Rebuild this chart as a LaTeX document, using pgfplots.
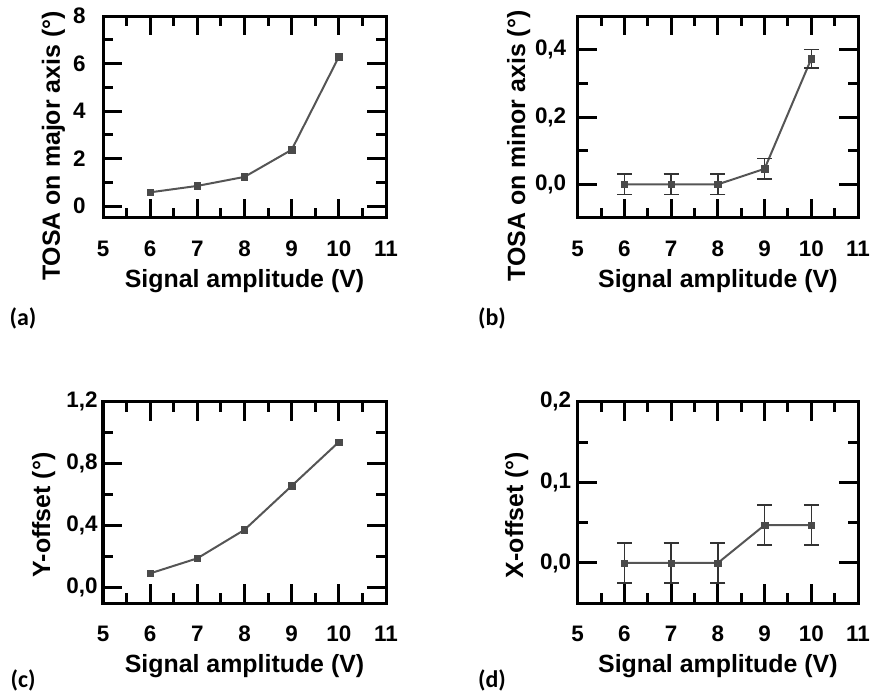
\documentclass[border=0pt]{standalone}
\usepackage{fontspec}
\setmainfont{Liberation Sans}
\newfontfamily\calfont{Carlito}
\usepackage{pgfplots}
\pgfplotsset{compat=1.18}
\definecolor{lc}{HTML}{555555}
\definecolor{mc}{HTML}{4A4A4A}
\definecolor{ec}{HTML}{333333}
\newcommand{\labfont}{\fontsize{25}{30}\selectfont\bfseries}
\newcommand{\ticfont}{\fontsize{22.5}{26}\selectfont\bfseries}
\newcommand{\panfont}{\fontsize{24}{28}\selectfont\calfont\bfseries}
\pgfplotsset{
 myaxis/.style={
  scale only axis,
  xmin=5, xmax=11,
  xtick={5,...,11},
  minor x tick num=1,
  minor y tick num=1,
  tick align=inside,
  major tick length=19bp,
  minor tick length=10bp,
  axis line style={line width=3bp},
  every tick/.style={black, line width=3bp},
  /pgf/number format/assume math mode=true,
  /pgf/number format/use comma,
  xlabel={Signal amplitude (V)},
  every axis x label/.style={at={(axis description cs:0.5,-0.342)},anchor=base,font=\labfont},
  xticklabel style={font=\ticfont, anchor=base, yshift=-38.5bp},
  yticklabel style={font=\ticfont},
 },
 dec/.style={yticklabel style={/pgf/number format/fixed, /pgf/number format/fixed zerofill, /pgf/number format/precision=1}},
 lineplot/.style={color=lc, line width=2bp, mark=square*, mark size=3.2bp, mark options={fill=mc, draw=mc, line width=0.5bp}},
 errplot/.style={lineplot, error bars/.cd, y dir=both, y explicit,
   error bar style={color=ec, line width=1.5bp},
   error mark options={rotate=90, mark size=7.5bp, color=ec, line width=1.5bp}},
}
\begin{document}
\begin{tikzpicture}
\useasboundingbox (0,0) rectangle (871bp,-695bp);
% (a)
\begin{axis}[myaxis, at={(103bp,-16bp)}, anchor=north west, width=283bp, height=202bp,
  ymin=-0.5, ymax=8, ytick={0,2,4,6,8},
  yticklabel style={xshift=-14bp},
  ylabel={TOSA on major axis (°)},
  every axis y label/.style={at={(axis description cs:-0.152,0.356)},rotate=90,anchor=base,font=\labfont}]
\addplot[lineplot] coordinates {(6,0.58) (7,0.85) (8,1.23) (9,2.37) (10,6.28)};
\end{axis}
% (b)
\begin{axis}[myaxis, dec, at={(577.7bp,-16bp)}, anchor=north west, width=280.3bp, height=202bp,
  ymin=-0.1, ymax=0.5, ytick={0,0.2,0.4},
  yticklabel style={xshift=-8bp},
  ylabel={TOSA on minor axis (°)},
  every axis y label/.style={at={(axis description cs:-0.188,0.356)},rotate=90,anchor=base,font=\labfont}]
\addplot[errplot] coordinates {(6,0) +- (0,0.03) (7,0) +- (0,0.03) (8,0) +- (0,0.03) (9,0.046) +- (0,0.03) (10,0.373) +- (0,0.028)};
\end{axis}
% (c)
\begin{axis}[myaxis, dec, at={(103bp,-401.7bp)}, anchor=north west, width=283bp, height=201.6bp,
  ymin=-0.1, ymax=1.2, ytick={0,0.4,0.8,1.2},
  yticklabel style={xshift=-2bp},
  ylabel={Y-offset (°)},
  every axis y label/.style={at={(axis description cs:-0.187,0.438)},rotate=90,anchor=base,font=\labfont}]
\addplot[lineplot] coordinates {(6,0.093) (7,0.19) (8,0.374) (9,0.657) (10,0.94)};
\end{axis}
% (d)
\begin{axis}[myaxis, dec, at={(577.7bp,-401.7bp)}, anchor=north west, width=280.3bp, height=201.6bp,
  ymin=-0.05, ymax=0.2, ytick={0,0.1,0.2},
  yticklabel style={xshift=-3bp},
  ylabel={X-offset (°)},
  every axis y label/.style={at={(axis description cs:-0.195,0.438)},rotate=90,anchor=base,font=\labfont}]
\addplot[errplot] coordinates {(6,0) +- (0,0.025) (7,0) +- (0,0.025) (8,0) +- (0,0.025) (9,0.047) +- (0,0.025) (10,0.047) +- (0,0.025)};
\end{axis}
\node[font=\panfont] at (23bp,-318bp) {(a)};
\node[font=\panfont] at (492bp,-318bp) {(b)};
\node[font=\panfont] at (23bp,-680bp) {(c)};
\node[font=\panfont] at (492bp,-680bp) {(d)};
\end{tikzpicture}
\end{document}
